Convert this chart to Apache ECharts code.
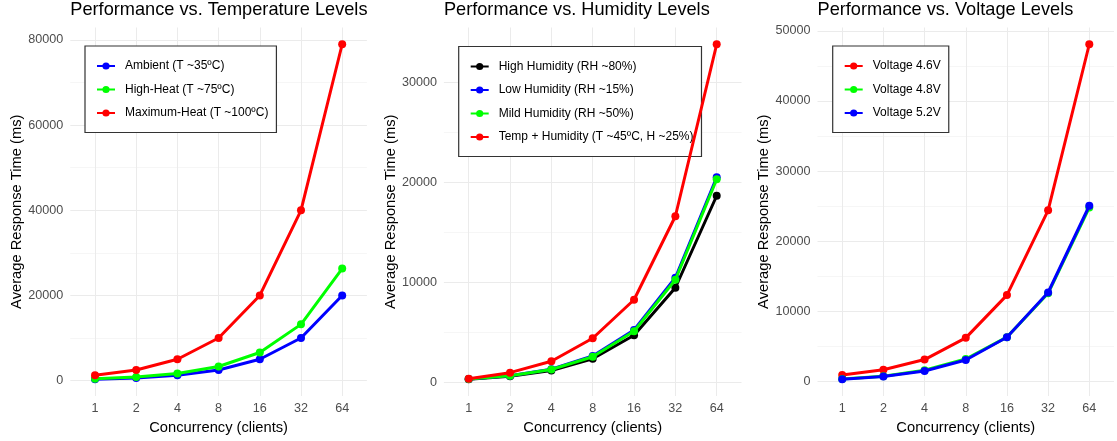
<!DOCTYPE html>
<html>
<head>
<meta charset="utf-8">
<script src="https://cdn.jsdelivr.net/npm/echarts@6/dist/echarts.min.js"></script>
<style>
html,body{margin:0;padding:0;background:#fff;}
#chart{width:1117px;height:441px;}
</style>
</head>
<body>
<div id="chart"></div>
<script>
// ---- data ----
const categories = ['1', '2', '4', '8', '16', '32', '64'];

// Panel 1: temperature
const tempNames = ['Ambient (T ~35ºC)', 'High-Heat (T ~75ºC)', 'Maximum-Heat (T ~100ºC)'];
const ambient = [310, 630, 1250, 2500, 5000, 10000, 20000];
const highHeat = [410, 820, 1650, 3300, 6600, 13200, 26300];
const maxHeat = [1250, 2500, 5000, 10000, 20000, 40000, 79000];
const tempTicks = [0, 20000, 40000, 60000, 80000];

// Panel 2: humidity
const humNames = ['High Humidity (RH ~80%)', 'Low Humidity (RH ~15%)', 'Mild Humidity (RH ~50%)', 'Temp + Humidity (T ~45ºC, H ~25%)'];
const highHum = [300, 590, 1180, 2350, 4700, 9450, 18650];
const lowHum = [330, 660, 1300, 2620, 5230, 10450, 20500];
const mildHum = [320, 640, 1270, 2550, 5100, 10250, 20300];
const tempHum = [340, 960, 2100, 4400, 8250, 16600, 33800];
const humTicks = [0, 10000, 20000, 30000];

// Panel 3: voltage
const voltNames = ['Voltage 4.6V', 'Voltage 4.8V', 'Voltage 5.2V'];
const volt46 = [900, 1650, 3100, 6200, 12300, 24400, 48100];
const volt48 = [330, 720, 1580, 3180, 6300, 12550, 24800];
const volt52 = [290, 670, 1470, 3040, 6290, 12670, 25050];
const voltTicks = [0, 10000, 20000, 30000, 40000, 50000];

const titles = ['Performance vs. Temperature Levels', 'Performance vs. Humidity Levels', 'Performance vs. Voltage Levels'];
const xTitle = 'Concurrency (clients)';
const yTitle = 'Average Response Time (ms)';

// ---- layout ----
const FONT = 'Liberation Sans, Arial, sans-serif';
const panels = [
  { left: 70.3, width: 296.6, legendLeft: 85, legendTop: 46, ticks: tempTicks,
    series: [[tempNames[0], ambient, '#0000FF'], [tempNames[1], highHeat, '#00FF00'], [tempNames[2], maxHeat, '#FF0000']] },
  { left: 443.9, width: 297.6, legendLeft: 458.7, legendTop: 46.5, ticks: humTicks,
    series: [[humNames[0], highHum, '#000000'], [humNames[1], lowHum, '#0000FF'], [humNames[2], mildHum, '#00FF00'], [humNames[3], tempHum, '#FF0000']] },
  { left: 817.5, width: 297.3, legendLeft: 832.7, legendTop: 46, ticks: voltTicks,
    series: [[voltNames[0], volt46, '#FF0000'], [voltNames[1], volt48, '#00FF00'], [voltNames[2], volt52, '#0000FF']] }
];
const gridTop = 27.5, gridHeight = 368.5;

const option = {
  animation: false,
  backgroundColor: '#ffffff',
  textStyle: { fontFamily: FONT },
  title: [], legend: [], grid: [], xAxis: [], yAxis: [], series: []
};

panels.forEach((p, k) => {
  option.title.push({
    text: titles[k], left: p.left, top: 1, padding: 0,
    textStyle: { fontSize: 18.2, fontWeight: 'normal', color: '#000', fontFamily: FONT }
  });
  option.grid.push({ left: p.left, top: gridTop, width: p.width, height: gridHeight });
  option.xAxis.push({
    type: 'value', gridIndex: k, min: -0.6, max: categories.length - 1 + 0.6,
    minInterval: 1, maxInterval: 1,
    axisLine: { show: false }, axisTick: { show: false }, splitLine: { show: false },
    axisLabel: {
      margin: 6.5, fontSize: 12.6, color: '#4D4D4D', fontFamily: FONT,
      formatter: v => (Number.isInteger(v) && v >= 0 && v < categories.length) ? categories[v] : ''
    },
    name: xTitle, nameLocation: 'middle', nameGap: 20.5,
    nameTextStyle: { fontSize: 14.7, color: '#000', fontFamily: FONT }
  });
  const ticks = p.ticks;
  option.yAxis.push({
    type: 'value', gridIndex: k,
    min: e => e.min - 0.05 * (e.max - e.min),
    max: e => e.max + 0.05 * (e.max - e.min),
    axisLine: { show: false }, axisTick: { show: false }, splitLine: { show: false },
    axisLabel: {
      margin: 7, fontSize: 12.6, color: '#4D4D4D', fontFamily: FONT,
      formatter: v => ticks.indexOf(v) >= 0 ? String(v) : ''
    },
    name: yTitle, nameLocation: 'middle', nameGap: 45,
    nameTextStyle: { fontSize: 14.7, color: '#000', fontFamily: FONT }
  });
  option.legend.push({
    data: p.series.map(s => s[0]),
    orient: 'vertical', left: p.legendLeft, top: p.legendTop,
    backgroundColor: '#fff', borderColor: '#333', borderWidth: 1.2, borderRadius: 0,
    padding: [14, 8, 13.5, 11],
    itemWidth: 18, itemHeight: 9, itemGap: 11.5,
    textStyle: { fontSize: 12, color: '#000', fontFamily: FONT, padding: [0, 0, 0, 5] }
  });
  // gridlines (drawn behind lines)
  const minor = [];
  for (let i = 0; i < ticks.length - 1; i++) minor.push((ticks[i] + ticks[i + 1]) / 2);
  const gl = [];
  minor.forEach(v => gl.push({ yAxis: v, lineStyle: { color: '#F2F2F2', width: 0.7, type: 'solid' } }));
  ticks.forEach(v => gl.push({ yAxis: v, lineStyle: { color: '#EBEBEB', width: 1, type: 'solid' } }));
  categories.forEach((c, i) => gl.push({ xAxis: i, lineStyle: { color: '#EBEBEB', width: 1, type: 'solid' } }));
  p.series.forEach((s, j) => {
    const ser = {
      name: s[0], type: 'line', xAxisIndex: k, yAxisIndex: k,
      data: s[1].map((v, i) => [i, v]),
      symbol: 'circle', symbolSize: 8, showSymbol: true,
      itemStyle: { color: s[2] }, lineStyle: { color: s[2], width: 3 },
      emphasis: { disabled: true }, z: 3 + j
    };
    if (j === 0) {
      ser.markLine = {
        silent: true, symbol: 'none', label: { show: false }, z: 1,
        emphasis: { disabled: true }, data: gl, animation: false
      };
    }
    option.series.push(ser);
  });
});

const chart = echarts.init(document.getElementById('chart'), null, { renderer: 'canvas' });
chart.setOption(option);
</script>
</body>
</html>
